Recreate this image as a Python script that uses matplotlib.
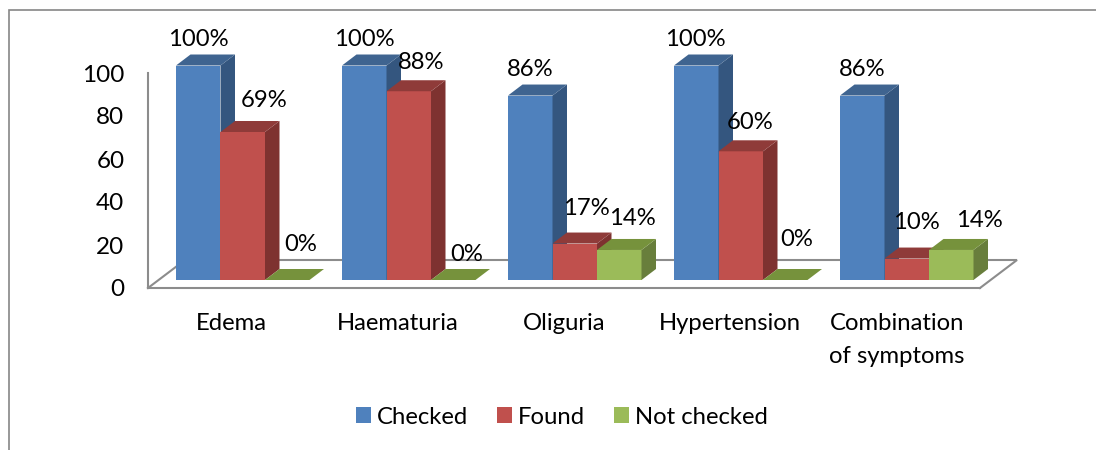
import matplotlib
matplotlib.use("Agg")
import matplotlib.pyplot as plt
from matplotlib.patches import Polygon, Patch
from matplotlib.lines import Line2D

categories = ["Edema", "Haematuria", "Oliguria", "Hypertension", "Combination\nof symptoms"]
checked = [100, 100, 86, 100, 86]
found = [69, 88, 17, 60, 10]
not_checked = [0, 0, 14, 0, 14]
series_names = ["Checked", "Found", "Not checked"]
yticks = [0, 20, 40, 60, 80, 100]

series = [checked, found, not_checked]
front = ["#4F81BD", "#C0504D", "#9BBB59"]
side = ["#34567F", "#7E3230", "#687E3C"]
top = ["#3F6490", "#8F3B39", "#76923C"]
GRAY = "#8C8C8C"
FONT = "Lato"
FS = 17.2

W, H = 1096, 450
plt.rcParams["font.family"] = [FONT, "DejaVu Sans"]
fig = plt.figure(figsize=(W / 100, H / 100), dpi=100)
L, R, T, B = 148, 980, 73, 288
ax = fig.add_axes([L / W, 1 - B / H, (R - L) / W, (B - T) / H])
ax.set_xlim(-0.5, 4.5)
ax.set_ylim(0, 100)
ax.patch.set_alpha(0)

px_x = (R - L) / 5      # pixels per category
px_y = (B - T) / 100    # pixels per value unit
bar_w = 44.5 / px_x
start = -0.5 + 28 / px_x
pitch = 166 / px_x
base = 8 / px_y
dx = 14.5 / px_x
dy = 11 / px_y
floor_dx = 37 / px_x
floor_dy = 28 / px_y
scale = 214.5 / 215

# floor outline
ax.plot([-0.5, -0.5 + floor_dx, 4.5 + floor_dx, 4.5],
        [0, floor_dy, floor_dy, 0],
        color=GRAY, lw=1.5, clip_on=False, zorder=1, solid_joinstyle="miter")

# label offsets from bar top centre, in pixels (series x category)
offsets = [
    [(0, 26), (0, 26), (0, 26), (-1, 26), (0, 26)],
    [(21, 31.5), (12, 28.5), (12, 35), (9, 28.5), (10, 36)],
    [(13, 35.5), (13, 25.5), (13, 31.5), (11, 40.5), (28, 29.5)],
]

for i in range(len(categories)):
    for j, vals in enumerate(series):
        v = vals[i] * scale
        x0 = start + i * pitch + j * bar_w
        x1 = x0 + bar_w
        z = 2 + i * 3 + j * 0.1
        ax.bar(x0, v, width=bar_w, bottom=base, align="edge", color=front[j],
               clip_on=False, zorder=z, linewidth=0)
        if v > 0:
            ax.add_patch(Polygon([(x1, base), (x1 + dx, base + dy), (x1 + dx, base + v + dy), (x1, base + v)],
                                 closed=True, fc=side[j], ec="none", clip_on=False, zorder=z))
        ax.add_patch(Polygon([(x0, base + v), (x1, base + v), (x1 + dx, base + v + dy), (x0 + dx, base + v + dy)],
                             closed=True, fc=top[j], ec="none", clip_on=False, zorder=z))
        ox, oy = offsets[j][i]
        ax.annotate(f"{vals[i]}%", xy=((x0 + x1) / 2, base + v), xytext=(ox * 0.72, oy * 0.72),
                    textcoords="offset points", ha="center", va="center", fontsize=FS,
                    color="black", zorder=50, annotation_clip=False)

for s in ("top", "right"):
    ax.spines[s].set_visible(False)
for s in ("left", "bottom"):
    ax.spines[s].set_color(GRAY)
    ax.spines[s].set_linewidth(1.5)
    ax.spines[s].set_zorder(1.5)
ax.set_yticks(yticks)
ax.set_xticks(range(len(categories)))
ax.set_xticklabels(categories, linespacing=1.72, va="top")
ax.tick_params(axis="y", length=0, pad=17, labelsize=FS + 0.3)
ax.tick_params(axis="x", length=0, pad=18, labelsize=FS)

handles = [Patch(fc=c, ec="none") for c in front]
fig.legend(handles, series_names, ncol=3, loc="center", bbox_to_anchor=(562 / W, 1 - 417 / H),
           frameon=False, fontsize=FS, handlelength=0.63, handleheight=0.63, handletextpad=0.25,
           columnspacing=1.22, borderpad=0)

# chart frame
fig.add_artist(Line2D([8.5 / W, 8.5 / W, 1], [0, 1 - 9.5 / H, 1 - 9.5 / H], color="#868686", lw=1.2,
                      transform=fig.transFigure, solid_joinstyle="miter"))

fig.savefig("out.png", dpi=100)
